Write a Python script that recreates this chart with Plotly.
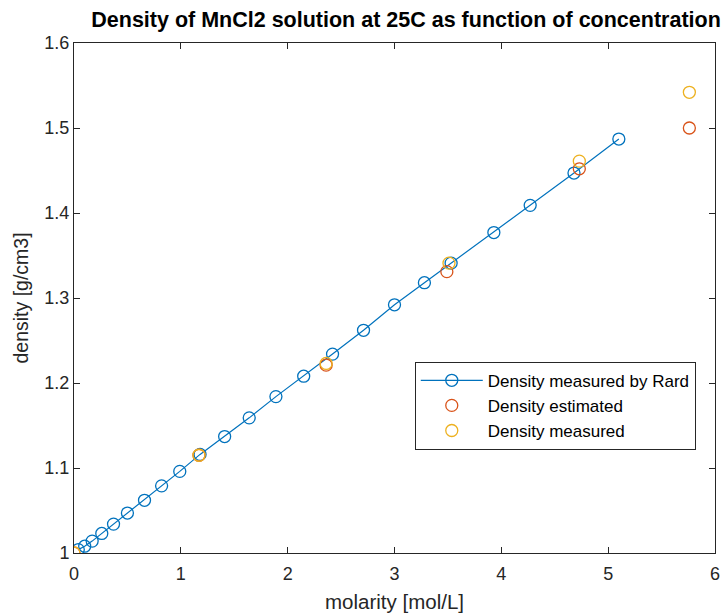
import plotly.graph_objects as go

# Rard measured data (molarity mol/L, density g/cm3)
rard_molarity = [0.04, 0.10, 0.17, 0.26, 0.37, 0.50, 0.66, 0.82, 0.99, 1.18, 1.41,
                 1.64, 1.89, 2.15, 2.42, 2.71, 3.00, 3.28, 3.53, 3.93, 4.27, 4.68, 5.10]
rard_density = [1.004, 1.008, 1.014, 1.023, 1.034, 1.047, 1.062, 1.079, 1.096, 1.116, 1.137,
                1.159, 1.184, 1.208, 1.234, 1.262, 1.292, 1.318, 1.341, 1.377, 1.409, 1.447, 1.487]

est_molarity = [0.0, 1.17, 2.36, 3.49, 4.73, 5.76]
est_density = [1.000, 1.115, 1.221, 1.331, 1.452, 1.500]

meas_molarity = [0.0, 1.17, 2.36, 3.51, 4.73, 5.76]
meas_density = [1.000, 1.115, 1.223, 1.341, 1.461, 1.542]

x_ticks = [0, 1, 2, 3, 4, 5, 6]
y_ticks = [1.0, 1.1, 1.2, 1.3, 1.4, 1.5, 1.6]
y_tick_labels = ["1", "1.1", "1.2", "1.3", "1.4", "1.5", "1.6"]

BLUE = "#0072BD"
ORANGE = "#D95319"
YELLOW = "#EDB120"
AX = "#262626"
FONT = "Liberation Sans, Arial"

marker_common = dict(symbol="circle-open", size=12)

fig = go.Figure()
fig.add_trace(go.Scatter(
    x=rard_molarity, y=rard_density, mode="lines+markers",
    name="Density measured by Rard",
    line=dict(color=BLUE, width=1.2),
    marker=dict(color=BLUE, line=dict(width=1.3, color=BLUE), **marker_common),
))
fig.add_trace(go.Scatter(
    x=est_molarity, y=est_density, mode="markers",
    name="Density estimated",
    marker=dict(color=ORANGE, line=dict(width=1.3, color=ORANGE), **marker_common),
))
fig.add_trace(go.Scatter(
    x=meas_molarity, y=meas_density, mode="markers",
    name="Density measured",
    marker=dict(color=YELLOW, line=dict(width=1.3, color=YELLOW), **marker_common),
))

axis_common = dict(
    showgrid=False, zeroline=False, showline=True, linecolor=AX, linewidth=1,
    mirror="ticks", ticks="inside", ticklen=6, tickcolor=AX, automargin=False,
    tickfont=dict(family=FONT, size=18, color=AX),
)

fig.update_layout(
    width=727, height=615,
    margin=dict(l=74, r=12, t=43, b=62),
    paper_bgcolor="white", plot_bgcolor="white",
    title=dict(text="<b>Density of MnCl2 solution at 25C as function of concentration</b>",
               x=0.518, xref="paper", xanchor="center", y=1, yref="paper", yanchor="bottom",
               pad=dict(b=16),
               font=dict(family=FONT, size=21.5, color="black")),
    xaxis=dict(range=[0, 6], tickvals=x_ticks, ticklabelstandoff=4,
               title=dict(text="molarity [mol/L]", standoff=12,
                          font=dict(family=FONT, size=20.5, color=AX)),
               **axis_common),
    yaxis=dict(range=[1.0, 1.6], tickvals=y_ticks, ticktext=y_tick_labels,
               title=dict(text="density [g/cm3]", standoff=10,
                          font=dict(family=FONT, size=19.5, color=AX)),
               **axis_common),
    legend=dict(x=0.97, y=0.375, xanchor="right", yanchor="top",
                bordercolor=AX, borderwidth=1, bgcolor="white",
                font=dict(family=FONT, size=17, color="black"),
                tracegroupgap=0, itemwidth=62),
    showlegend=True,
)

fig.write_html("out.html")
